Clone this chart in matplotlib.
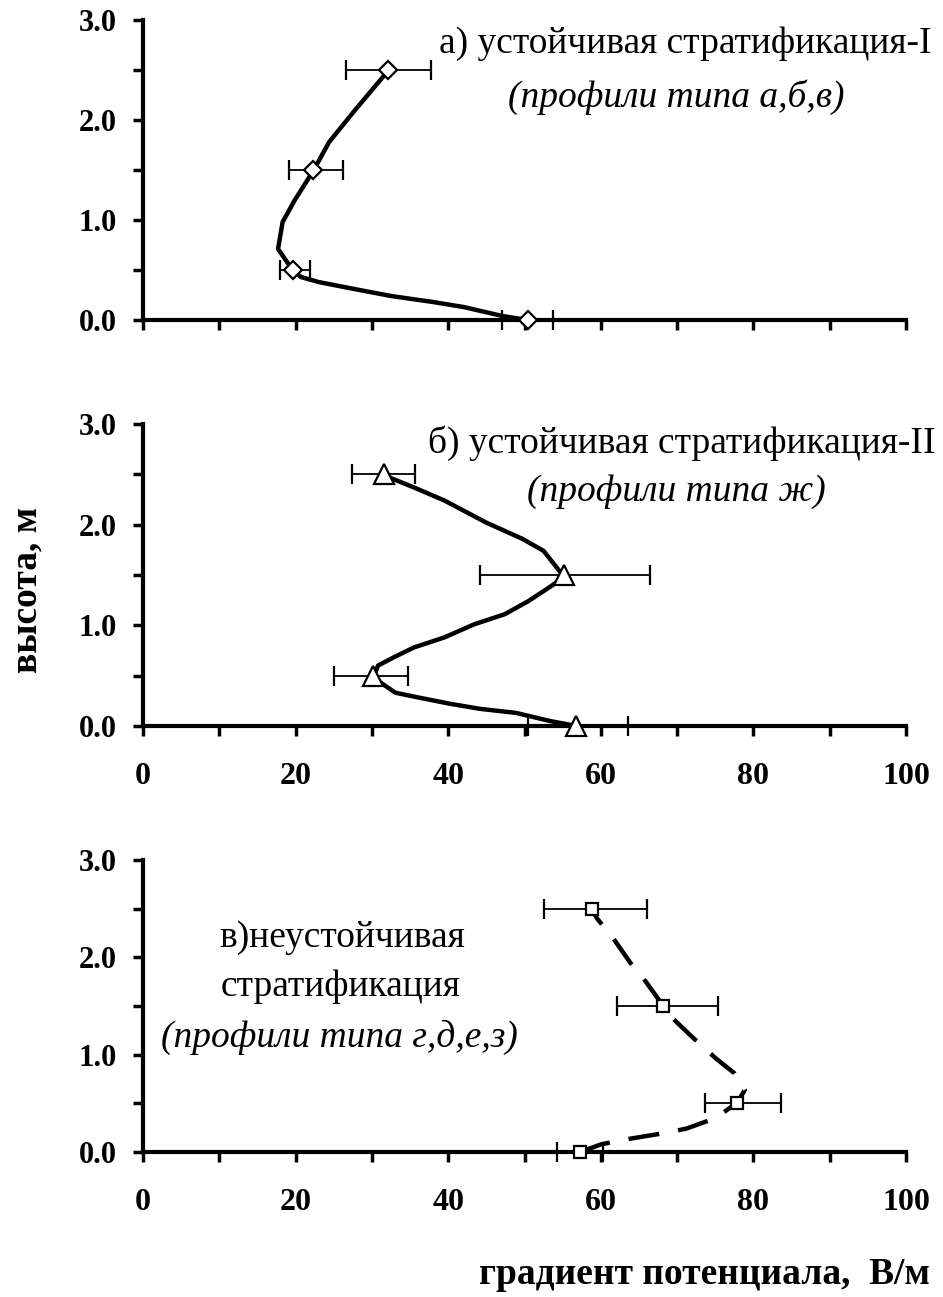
import matplotlib.pyplot as plt
import numpy as np

plt.rcParams['font.family'] = ['Liberation Serif', 'DejaVu Serif']

# высоты измерений, м
heights = [0.0, 0.5, 1.5, 2.5]

# а) устойчивая стратификация-I
a_x = [50.4, 19.7, 22.3, 32.1]
a_lo = [47.1, 17.9, 19.1, 26.6]
a_hi = [53.8, 21.9, 26.2, 37.7]
a_curve_x = [50.4, 47.1, 42.0, 38.0, 32.5, 27.0, 23.0, 20.7, 19.7, 17.7, 18.3,
             19.9, 22.3, 24.4, 27.8, 32.1]
a_curve_h = [0.0, 0.04, 0.13, 0.18, 0.24, 0.32, 0.38, 0.43, 0.49, 0.71, 0.98,
             1.20, 1.49, 1.78, 2.10, 2.49]

# б) устойчивая стратификация-II
b_x = [56.8, 30.2, 55.2, 31.6]
b_lo = [50.4, 25.0, 44.2, 27.4]
b_hi = [63.5, 34.7, 66.5, 35.7]
b_curve_x = [56.8, 53.3, 48.9, 44.2, 40.3, 36.3, 33.1, 30.2, 30.8, 32.8, 35.5,
             39.5, 43.4, 47.4, 50.5, 53.3, 55.2, 52.5, 49.7, 45.0, 39.5, 35.5, 31.6]
b_curve_h = [0.0, 0.05, 0.13, 0.17, 0.22, 0.28, 0.33, 0.48, 0.60, 0.68, 0.78,
             0.88, 1.01, 1.11, 1.24, 1.38, 1.48, 1.74, 1.86, 2.02, 2.24, 2.37, 2.49]

# в) неустойчивая стратификация
c_x = [57.3, 77.9, 68.1, 58.8]
c_lo = [54.3, 73.6, 62.1, 52.5]
c_hi = [60.3, 83.6, 75.4, 66.1]
c_curve_x = [57.3, 60.1, 64.1, 68.0, 71.2, 75.1, 77.9, 78.9, 77.5, 75.1, 72.0,
             69.2, 68.1, 65.9, 63.9, 61.5, 59.5, 58.8]
c_curve_h = [0.0, 0.08, 0.14, 0.19, 0.24, 0.35, 0.51, 0.64, 0.81, 0.96, 1.18,
             1.39, 1.51, 1.75, 1.94, 2.21, 2.40, 2.5]

x_ticks = [0, 20, 40, 60, 80, 100]

W, H = 943, 1297
fig = plt.figure(figsize=(W / 100, H / 100), dpi=100)


def px_axes(left, right, top, bottom):
    # позиция осей по пикселям картинки
    return fig.add_axes([left / W, 1 - bottom / H, (right - left) / W, (bottom - top) / H])


def style_axes(ax, show_labels):
    ax.set_xlim(0, 100)
    ax.set_ylim(0, 3)
    for s in ['top', 'right']:
        ax.spines[s].set_visible(False)
    for s in ['left', 'bottom']:
        ax.spines[s].set_linewidth(3)
    ax.set_xticks(np.arange(0, 101, 10))
    ax.set_xticklabels([str(v) if v in x_ticks and show_labels else '' for v in range(0, 101, 10)])
    ax.set_yticks([0, 1, 2, 3])
    ax.set_yticklabels(['0.0', '1.0', '2.0', '3.0'])
    ax.set_yticks([0.5, 1.5, 2.5], minor=True)
    ax.tick_params(axis='both', which='both', direction='out', length=7, width=2.5)
    ax.tick_params(axis='x', pad=19, labelsize=23)
    ax.tick_params(axis='y', pad=12, labelsize=22)
    for lab in ax.get_xticklabels() + ax.get_yticklabels():
        lab.set_fontweight('bold')


def draw(ax, cx, ch, x, lo, hi, marker, ms, ls):
    line, = ax.plot(cx, ch, color='black', lw=3.2, clip_on=False, zorder=3)
    if ls == 'dashed':
        line.set_dashes((7, 4.3))
    xerr = [np.array(x) - np.array(lo), np.array(hi) - np.array(x)]
    ax.errorbar(x, heights, xerr=xerr, fmt=marker, ms=ms, mfc='white', mec='black',
                mew=1.6, ecolor='black', elinewidth=1.3, capsize=7, capthick=1.3,
                clip_on=False, zorder=4)


ax1 = px_axes(143, 906, 20, 320)
style_axes(ax1, False)
draw(ax1, a_curve_x, a_curve_h, a_x, a_lo, a_hi, 'D', 9.5, 'solid')

ax2 = px_axes(143, 906, 424, 726)
style_axes(ax2, True)
draw(ax2, b_curve_x, b_curve_h, b_x, b_lo, b_hi, '^', 14, 'solid')

ax3 = px_axes(143, 906, 860, 1152)
style_axes(ax3, True)
draw(ax3, c_curve_x, c_curve_h, c_x, c_lo, c_hi, 's', 9, 'dashed')


def ftext(x, y, s, **kw):
    fig.text(x / W, 1 - y / H, s, va='center', **kw)


ftext(932, 44, 'а) устойчивая стратификация-I', ha='right', fontsize=27)
ftext(676, 97, '(профили типа а,б,в)', ha='center', fontsize=27, style='italic')
ftext(936, 443, 'б) устойчивая стратификация-II', ha='right', fontsize=27)
ftext(676, 492, '(профили типа ж)', ha='center', fontsize=27, style='italic')
ftext(342, 938, 'в)неустойчивая', ha='center', fontsize=27)
ftext(341, 987, 'стратификация', ha='center', fontsize=27)
ftext(339, 1037, '(профили типа г,д,е,з)', ha='center', fontsize=27, style='italic')

ftext(930, 1275, 'градиент потенциала,  В/м', ha='right', fontsize=27, fontweight='bold')
fig.text(27 / W, 1 - 590 / H, 'высота, м', rotation=90, ha='center', va='center',
         fontsize=27, fontweight='bold')

plt.savefig('out.png', dpi=100)
